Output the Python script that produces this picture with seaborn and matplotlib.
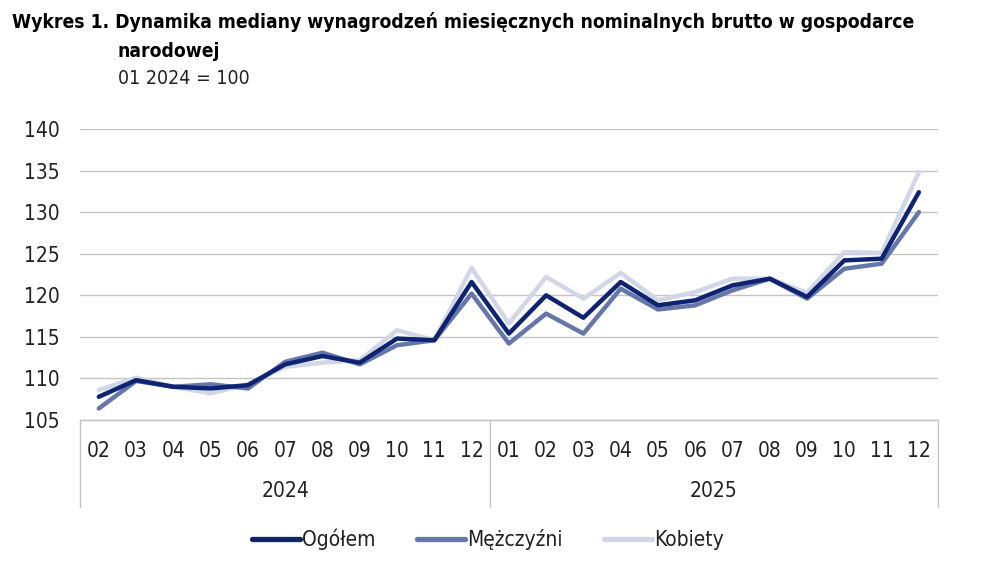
"""Median nominal gross monthly wage dynamics, 01 2024 = 100."""

import matplotlib.pyplot as plt
import matplotlib.transforms as mtransforms
from matplotlib.lines import Line2D
import pandas as pd
import seaborn as sns

MONTHS = ["02", "03", "04", "05", "06", "07", "08", "09", "10", "11", "12",
          "01", "02", "03", "04", "05", "06", "07", "08", "09", "10", "11", "12"]
YEARS = ["2024", "2025"]
YEAR_SPANS = [(0, 10), (11, 22)]

OGOLEM = [107.8, 109.8, 109.0, 108.8, 109.2, 111.7, 112.7, 111.9, 114.8, 114.6, 121.6,
          115.4, 120.0, 117.3, 121.6, 118.8, 119.4, 121.2, 122.0, 119.8, 124.2, 124.4, 132.4]
MEZCZYZNI = [106.4, 109.7, 109.0, 109.3, 108.8, 112.0, 113.1, 111.7, 114.0, 114.6, 120.2,
             114.2, 117.8, 115.4, 120.8, 118.3, 118.8, 120.6, 122.0, 119.6, 123.2, 123.8, 130.0]
KOBIETY = [108.6, 110.1, 109.0, 108.2, 109.3, 111.4, 111.9, 112.2, 115.8, 114.6, 123.3,
           116.6, 122.2, 119.6, 122.7, 119.4, 120.4, 122.0, 122.0, 120.3, 125.2, 125.1, 134.8]

SERIES = ["Ogółem", "Mężczyźni", "Kobiety"]
PALETTE = {"Ogółem": "#0e2472", "Mężczyźni": "#6576ab", "Kobiety": "#d2d7e7"}
TEXT = "#222222"
GRID = "#c3c3c3"


def build_frame() -> pd.DataFrame:
    rows = []
    for name, values in zip(SERIES, [OGOLEM, MEZCZYZNI, KOBIETY]):
        for i, v in enumerate(values):
            rows.append({"pos": i, "value": v, "series": name})
    return pd.DataFrame(rows)


def main() -> None:
    sns.set_theme(style="white")
    plt.rcParams["font.family"] = ["DejaVu Sans"]
    plt.rcParams["font.stretch"] = "condensed"

    df = build_frame()
    fig = plt.figure(figsize=(9.9, 5.81), dpi=100)
    ax = fig.add_axes([0.081, 0.277, 0.866, 0.501])

    # draw back to front: Kobiety, Mężczyźni, Ogółem
    sns.lineplot(data=df, x="pos", y="value", hue="series",
                 hue_order=["Kobiety", "Mężczyźni", "Ogółem"],
                 palette=PALETTE, linewidth=3.2, legend=False, ax=ax)

    ax.set_xlim(-0.5, len(MONTHS) - 0.5)
    ax.set_ylim(105, 140)
    ax.set_yticks(range(105, 141, 5))
    ax.yaxis.grid(True, color=GRID, linewidth=1.0)
    ax.set_axisbelow(True)
    for side in ["top", "right", "left"]:
        ax.spines[side].set_visible(False)
    ax.spines["bottom"].set_color(GRID)
    ax.spines["bottom"].set_linewidth(1.0)

    ax.set_xticks(range(len(MONTHS)))
    ax.set_xticklabels(MONTHS)
    ax.tick_params(axis="x", length=0, pad=15, labelsize=15, colors=TEXT)
    ax.tick_params(axis="y", length=0, pad=15, labelsize=15, colors=TEXT)
    ax.set_xlabel("")
    ax.set_ylabel("")

    # category table below the axis
    trans = mtransforms.blended_transform_factory(ax.transData, ax.transAxes)
    for x in [-0.5, 10.5, len(MONTHS) - 0.5]:
        ax.add_line(Line2D([x, x], [0, -0.30], transform=trans, color=GRID,
                           linewidth=1.0, clip_on=False))
    for year, (a, b) in zip(YEARS, YEAR_SPANS):
        ax.text((a + b) / 2, -0.245, year, transform=trans, ha="center", va="center",
                fontsize=15, color=TEXT)

    handles = [Line2D([0], [0], color=PALETTE[s], linewidth=3.8) for s in SERIES]
    fig.legend(handles, SERIES, loc="center", bbox_to_anchor=(0.493, 0.072), ncol=3,
               frameon=False, fontsize=15, handlelength=2.3, handletextpad=0.1,
               columnspacing=2.0, labelcolor=TEXT)

    fig.text(0.012, 0.962, "Wykres 1. Dynamika mediany wynagrodzeń miesięcznych nominalnych brutto w gospodarce",
             fontsize=13.9, fontweight="bold", color="black", va="center")
    fig.text(0.119, 0.912, "narodowej", fontsize=13.9, fontweight="bold", color="black", va="center")
    fig.text(0.119, 0.865, "01 2024 = 100", fontsize=14, color=TEXT, va="center")

    fig.savefig("out.png", dpi=100)
    plt.close(fig)


if __name__ == "__main__":
    main()
